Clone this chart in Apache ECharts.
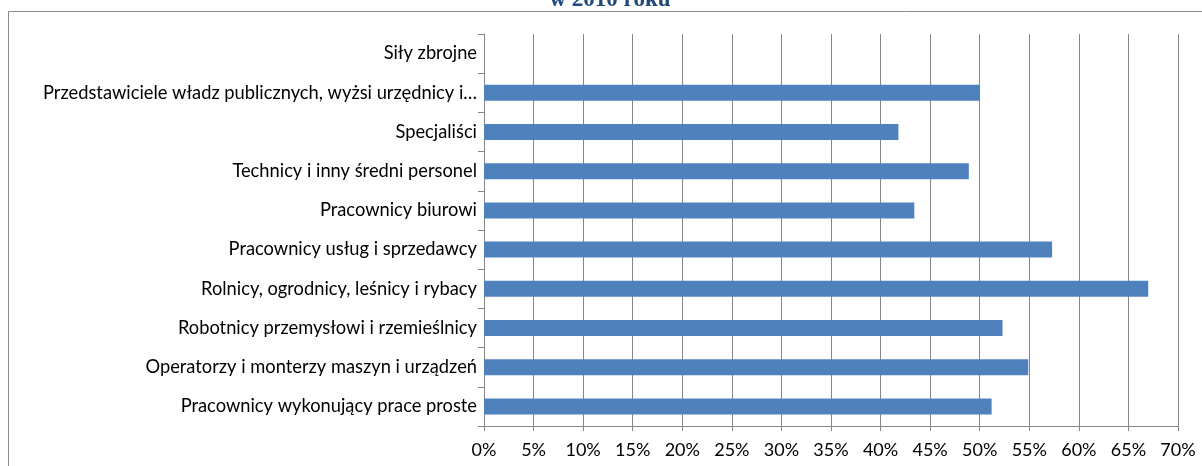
<!DOCTYPE html>
<html>
<head>
<meta charset="utf-8">
<script src="https://cdn.jsdelivr.net/npm/echarts@6/dist/echarts.min.js"></script>
<style>
  html, body { margin: 0; padding: 0; background: #fff; }
  #chart { width: 1202px; height: 466px; }
</style>
</head>
<body>
<div id="chart"></div>
<script>
// categories, top to bottom as in the picture
var categories = [
    'Siły zbrojne',
    'Przedstawiciele władz publicznych, wyżsi urzędnicy i…',
    'Specjaliści',
    'Technicy i inny średni personel',
    'Pracownicy biurowi',
    'Pracownicy usług i sprzedawcy',
    'Rolnicy, ogrodnicy, leśnicy i rybacy',
    'Robotnicy przemysłowi i rzemieślnicy',
    'Operatorzy i monterzy maszyn i urządzeń',
    'Pracownicy wykonujący prace proste'
];
var values = [0, 50.0, 41.8, 48.9, 43.4, 57.3, 67.0, 52.3, 54.9, 51.2];
var titleText = 'w 2010 roku';

var chart = echarts.init(document.getElementById('chart'));

var labelFont = 'Lato, sans-serif';
var gridColor = '#868686';

chart.setOption({
    animation: false,
    backgroundColor: '#fff',
    graphic: [
        {
            type: 'rect',
            shape: { x: 8.5, y: 11.5, width: 1400, height: 600 },
            style: { fill: 'none', stroke: '#8a8a8a', lineWidth: 1 },
            silent: true
        },
        {
            type: 'text',
            x: 610,
            y: 12,
            style: {
                text: titleText,
                fill: '#1F497D',
                font: 'bold 23px "Liberation Serif", serif',
                align: 'center',
                verticalAlign: 'bottom'
            }
        }
    ],
    grid: {
        left: 484,
        top: 34,
        width: 694,
        height: 392
    },
    xAxis: {
        type: 'value',
        min: 0,
        max: 70,
        interval: 5,
        axisLine: { show: true, lineStyle: { color: gridColor, width: 1 } },
        axisTick: { show: true, length: 5, lineStyle: { color: gridColor } },
        splitLine: { show: true, lineStyle: { color: gridColor, width: 1 } },
        axisLabel: {
            formatter: '{value}%',
            color: '#000',
            fontFamily: labelFont,
            fontSize: 18,
            margin: 15
        }
    },
    yAxis: {
        type: 'category',
        data: categories,
        inverse: true,
        axisLine: { show: true, lineStyle: { color: gridColor, width: 1 } },
        axisTick: { show: true, length: 6, lineStyle: { color: gridColor } },
        splitLine: { show: false },
        axisLabel: {
            color: '#000',
            fontFamily: labelFont,
            fontSize: 18.3,
            margin: 7
        }
    },
    series: [{
        type: 'bar',
        data: values,
        barWidth: 16,
        itemStyle: {
            color: '#4F81BD'
        }
    }]
});
</script>
</body>
</html>
